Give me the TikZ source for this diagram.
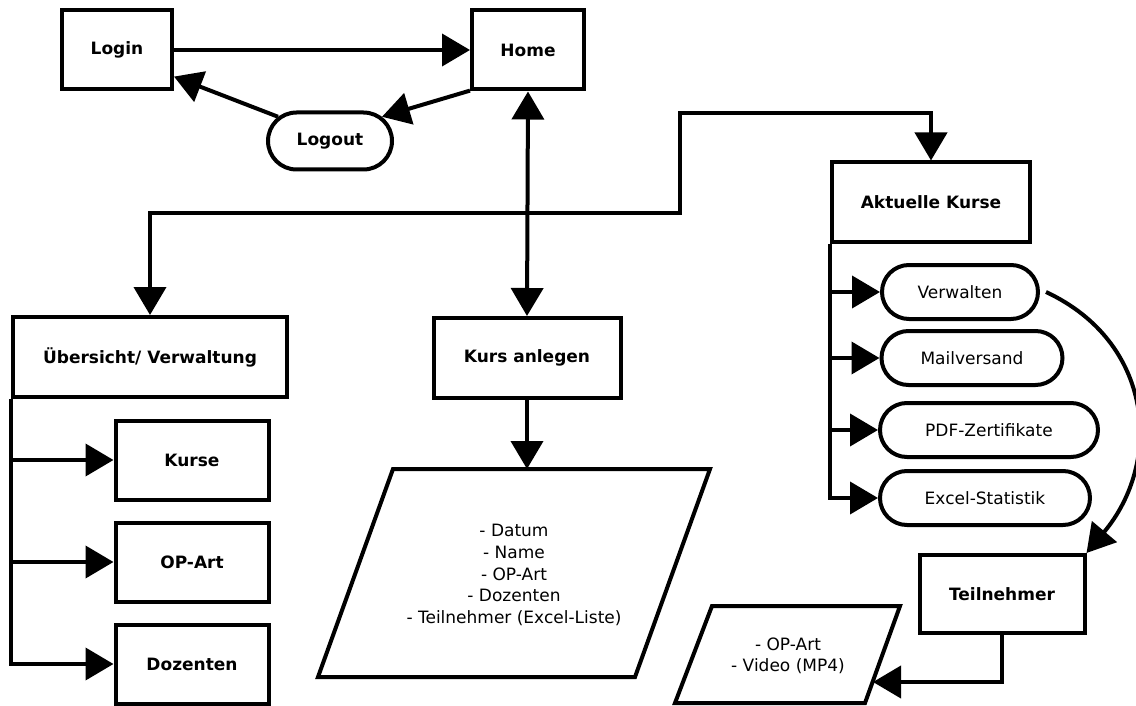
\documentclass[tikz,border=0pt]{standalone}
\usepackage{fontspec}
\setmainfont{DejaVu Sans}
\usetikzlibrary{arrows.meta,shapes.misc}
\begin{document}
\begin{tikzpicture}[x=1pt,y=-1pt,line width=4pt,line join=miter,
  >={Triangle[length=28pt,width=32pt]},
  box/.style={draw,rectangle,minimum width=#1,minimum height=79pt,inner sep=0pt,
    font=\fontsize{17}{21.6}\selectfont\bfseries},
  pill/.style={draw,rounded rectangle,minimum width=#1,minimum height=54pt,inner sep=0pt,
    font=\fontsize{17}{21.6}\selectfont},
  paratext/.style={inner sep=0pt,align=center,font=\fontsize{17}{21.6}\selectfont},
  conn/.style={->},
  biconn/.style={<->}]
\useasboundingbox (0,0) rectangle (1136,706);

\node[box=110pt] (Login) at (117,50) {Login};
\node[box=112pt] (Home) at (528,50) {Home};
\node[pill=124pt,minimum height=57pt,font=\fontsize{17}{21.6}\selectfont\bfseries] (Logout) at (330,141) {Logout};

\node[box=274pt,minimum height=80pt] (Uebersicht) at (150,357) {Übersicht/ Verwaltung};
\node[box=153pt] (Kurse) at (192,460) {Kurse};
\node[box=153pt] (OPArt) at (192,562) {OP-Art};
\node[box=153pt] (Dozenten) at (192,664) {Dozenten};

\node[box=187pt,minimum height=80pt] (Kurs) at (527,358) {Kurs anlegen};
% large parallelogram
\coordinate (P1) at (393,469);
\coordinate (P2) at (710,469);
\coordinate (P3) at (635,677);
\coordinate (P4) at (318,677);
\draw (P1) -- (P2) -- (P3) -- (P4) -- cycle;
\node[paratext] (Param) at (514,575)
  {- Datum\\- Name\\- OP-Art\\- Dozenten\\- Teilnehmer (Excel-Liste)};

\node[box=198pt] (Aktuelle) at (931,202) {Aktuelle Kurse};
\node[pill=156pt] (Verwalten) at (960,292) {Verwalten};
\node[pill=181pt] (Mail) at (972,358) {Mailversand};
\node[pill=218pt] (PDF) at (989,430) {PDF-Zertifikate};
\node[pill=210pt] (Excel) at (985,498) {Excel-Statistik};
\node[box=165pt,minimum height=78pt] (Teilnehmer) at (1002,594) {Teilnehmer};
% small parallelogram
\coordinate (M1) at (712,606);
\coordinate (M2) at (900,606);
\coordinate (M3) at (865,703);
\coordinate (M4) at (675,703);
\coordinate (Mtip) at (873,682);
\draw (M1) -- (M2) -- (M3) -- (M4) -- cycle;
\node[paratext] (Media) at (788,656) {- OP-Art\\- Video (MP4)};

\coordinate (c1) at (680,213);
\coordinate (c2) at (680,113);

% top
\draw[conn] (Login.east) -- (Home.west);
\draw[conn] (Logout.155) -- (Login.-25);
\draw[conn] (Home.-145) -- (Logout.25);
\draw[biconn] (Home.south) -- (Kurs.north);
\draw[biconn] (Uebersicht.north) |- (c1) -- (c2) -| (Aktuelle.north);

% left bracket
\draw[conn] (Uebersicht.south west) |- (Kurse.west);
\draw[conn] (Uebersicht.south west) |- (OPArt.west);
\draw[conn] (Uebersicht.south west) |- (Dozenten.west);

% middle
\draw[conn] (Kurs.south) -- (Kurs.south |- P1);

% right bracket
\draw[conn] (Aktuelle.south west) |- (Verwalten.west);
\draw[conn] (Aktuelle.south west) |- (Mail.west);
\draw[conn] (Aktuelle.south west) |- (PDF.west);
\draw[conn] (Aktuelle.south west) |- (Excel.west);

\draw[conn] ([xshift=6pt]Verwalten.east) to[out=-25,in=50,looseness=1.15] (Teilnehmer.north east);
\draw[conn] (Teilnehmer.south) |- (Mtip);
\end{tikzpicture}
\end{document}
